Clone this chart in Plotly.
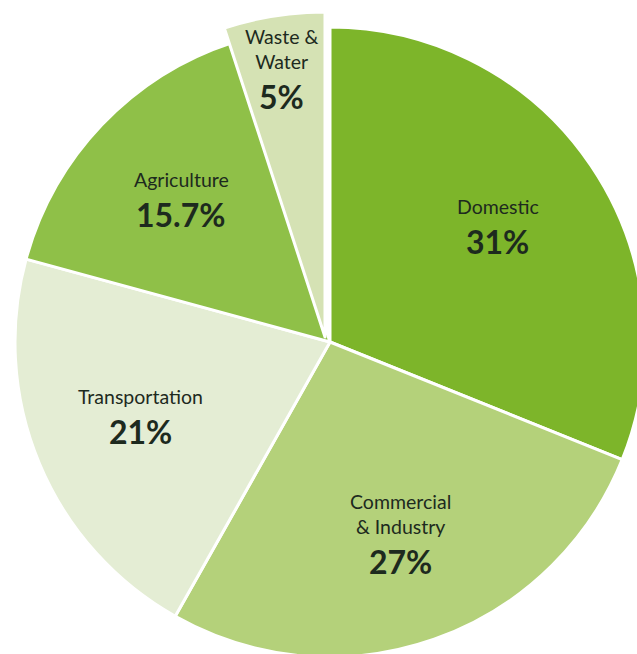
import math
import plotly.graph_objects as go

# Emissions share by sector
sectors = ["Domestic", "Commercial<br>& Industry", "Transportation", "Agriculture", "Waste &<br>Water"]
shares = [31, 27, 21, 15.7, 5]
colors = ["#7db52a", "#b4d17a", "#e4edd4", "#8fc048", "#d5e2b4"]

# Page / figure geometry (pixels)
W, H = 660, 680
CX, CY, R = 330, 342, 315           # main pie centre and radius
WCX, WCY, WR = 325, 337, 325        # enlarged, slightly offset "Waste & Water" wedge
# Label placement: fraction of radius and angular nudge (degrees) from each wedge's mid-angle
LABEL_FRAC = [0.659, 0.667, 0.638, 0.67, 0.817]
LABEL_NUDGE = [-2.0, -0.3, 2.9, 1.5, -0.5]
TEXT_COLOR = "#1d2a1e"
FONT = "Lato"


def domain(cx, cy, r):
    return dict(x=[(cx - r) / W, (cx + r) / W], y=[1 - (cy + r) / H, 1 - (cy - r) / H])


clear = "rgba(0,0,0,0)"
last = len(shares) - 1

fig = go.Figure()
# Four main sectors (the last wedge is left empty here)
fig.add_trace(go.Pie(
    values=shares, labels=sectors, sort=False, direction="clockwise", rotation=0,
    textinfo="none", hoverinfo="skip", showlegend=False,
    marker=dict(colors=[c if i != last else clear for i, c in enumerate(colors)],
                line=dict(color="white", width=[3 if i != last else 0 for i in range(len(shares))])),
    domain=domain(CX, CY, R),
))
# Highlighted wedge drawn on its own, slightly larger
fig.add_trace(go.Pie(
    values=shares, labels=sectors, sort=False, direction="clockwise", rotation=0,
    textinfo="none", hoverinfo="skip", showlegend=False,
    marker=dict(colors=[c if i == last else clear for i, c in enumerate(colors)],
                line=dict(color="white", width=[3 if i == last else 0 for i in range(len(shares))])),
    domain=domain(WCX, WCY, WR),
))

# Labels placed near each wedge's mid-angle
total = sum(shares)
start = 0.0
for i, (name, v) in enumerate(zip(sectors, shares)):
    frac = v / total
    mid = (start + frac / 2) * 2 * math.pi + math.radians(LABEL_NUDGE[i])
    start += frac
    cx, cy, r = (WCX, WCY, WR) if i == last else (CX, CY, R)
    d = LABEL_FRAC[i] * r
    px = cx + d * math.sin(mid)
    py = cy - d * math.cos(mid)
    xp, yp = px / W, 1 - py / H
    fig.add_annotation(x=xp, y=yp, xref="paper", yref="paper", text=name,
                       showarrow=False, xanchor="center", yanchor="bottom",
                       font=dict(family=FONT, size=19.5, color=TEXT_COLOR))
    fig.add_annotation(x=xp, y=yp, xref="paper", yref="paper", text=f"<b>{v:g}%</b>",
                       showarrow=False, xanchor="center", yanchor="top",
                       font=dict(family=FONT, size=32, color=TEXT_COLOR))

fig.update_layout(width=W, height=H, margin=dict(l=0, r=0, t=0, b=0),
                  paper_bgcolor="white", plot_bgcolor="white")

clip_js = (
    "var g=document.getElementById('{plot_id}');"
    "var p=g.parentElement;p.style.width='637px';p.style.height='654px';p.style.overflow='hidden';"
    "document.body.style.margin='0';document.body.style.overflow='hidden';"
    "document.body.style.fontVariantLigatures='none';"
    "document.documentElement.style.overflow='hidden';"
)
fig.write_html("out.html", post_script=clip_js, config={"displayModeBar": False})
